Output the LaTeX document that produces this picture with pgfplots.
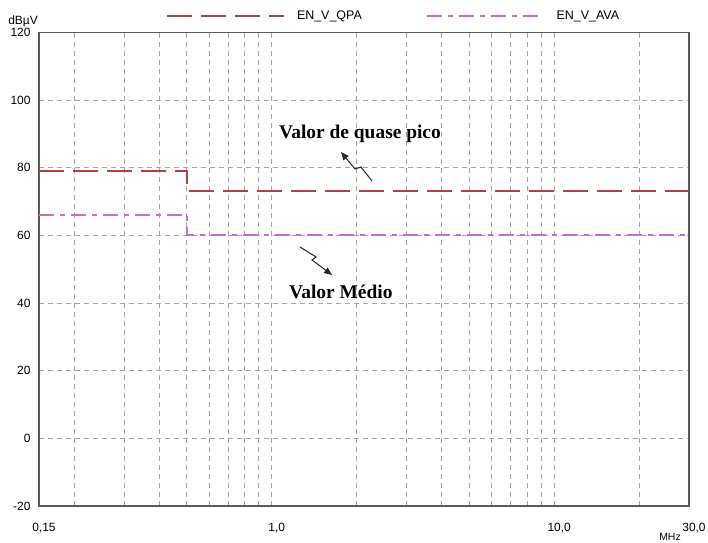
\documentclass[border=0pt]{standalone}
\usepackage{fontspec}
\setmainfont{Liberation Sans}
\newfontfamily\annfont{Liberation Serif}
\usepackage{pgfplots}
\pgfplotsset{compat=1.18}
\usetikzlibrary{arrows.meta}

\definecolor{qpa}{RGB}{172,66,66}
\definecolor{ava}{RGB}{205,105,215}
\definecolor{gridc}{RGB}{165,165,165}
\definecolor{axc}{RGB}{90,90,90}

\begin{document}
\begin{tikzpicture}
\begin{axis}[
    name=ax,
    scale only axis, width=650bp, height=473.7bp,
    xmode=log, xmin=0.15, xmax=30, ymin=-20, ymax=120,
    xtick={0.15,1,10,30},
    xticklabels={{0,15},{1,0},{10,0},{30,0}},
    minor xtick={0.2,0.3,0.4,0.5,0.6,0.7,0.8,0.9,2,3,4,5,6,7,8,9,20},
    ytick={-20,0,20,40,60,80,100,120},
    grid=both,
    major grid style={gridc, dash pattern=on 5bp off 4bp, line width=0.7bp},
    minor grid style={gridc, dash pattern=on 5bp off 4bp, line width=0.7bp},
    major tick length=0pt, minor tick length=0pt,
    axis line style={axc, line width=1.1bp},
    /pgf/number format/assume math mode=true,
    tick label style={font=\fontsize{12}{13}\selectfont},
    xticklabel style={xshift=5bp, yshift=-14bp},
    yticklabel style={xshift=-5bp},
    xlabel={MHz}, ylabel={dBµV},
    every axis x label/.style={at={(rel axis cs:0.9708,-0.0654)}, anchor=center,
        font=\fontsize{10.5}{11}\selectfont},
    every axis y label/.style={at={(rel axis cs:-0.0246,1.0224)}, anchor=center,
        font=\fontsize{12}{13}\selectfont},
    legend columns=2,
    legend cell align=left,
    legend style={draw=none, fill=none, at={(0.1954,1.035)}, anchor=west,
        inner sep=0pt, font=\fontsize{12.5}{13}\selectfont,
        nodes={inner sep=0pt},
        /tikz/every odd column/.append style={column sep=12bp},
        /tikz/every even column/.append style={column sep=64bp}},
    legend image code/.code={
        \draw[#1] (0bp,0bp) -- (117bp,0bp);
    },
    clip=false,
]
% quasi-peak limit
\addplot[draw=qpa, line width=1.8bp, dash pattern=on 25bp off 9bp] coordinates {
(0.15,79) (0.5,79) (0.5,73) (30,73)
};
\addlegendentry{EN\_V\_QPA}
% average limit
\addplot[draw=ava, line width=1.8bp, dash pattern=on 15bp off 6bp on 5bp off 6bp] coordinates {
(0.15,66) (0.5,66) (0.5,60) (30,60)
};
\addlegendentry{EN\_V\_AVA}

% annotations
\node[font=\annfont\bfseries\fontsize{19.5}{20}\selectfont, anchor=base]
    at (rel axis cs:0.4938,0.7762) {Valor de quase pico};
\node[font=\annfont\bfseries\fontsize{19.5}{20}\selectfont, anchor=base]
    at (rel axis cs:0.4643,0.4385) {Valor Médio};
\draw[black!85, line width=1bp, -{Triangle[length=8bp,width=6.5bp]}]
    (rel axis cs:0.5123,0.6861) -- (rel axis cs:0.4954,0.7156)
    -- (rel axis cs:0.4862,0.7114) -- (rel axis cs:0.4646,0.7473);
\draw[black!85, line width=1bp, -{Triangle[length=8bp,width=6.5bp]}]
    (rel axis cs:0.4015,0.5468) -- (rel axis cs:0.4262,0.5256)
    -- (rel axis cs:0.4200,0.5193) -- (rel axis cs:0.4508,0.4877);
\end{axis}
\pgfresetboundingbox
\path[use as bounding box] (ax.south west) ++(-39bp,-37bp) rectangle ++(708bp,543bp);
\end{tikzpicture}
\end{document}
